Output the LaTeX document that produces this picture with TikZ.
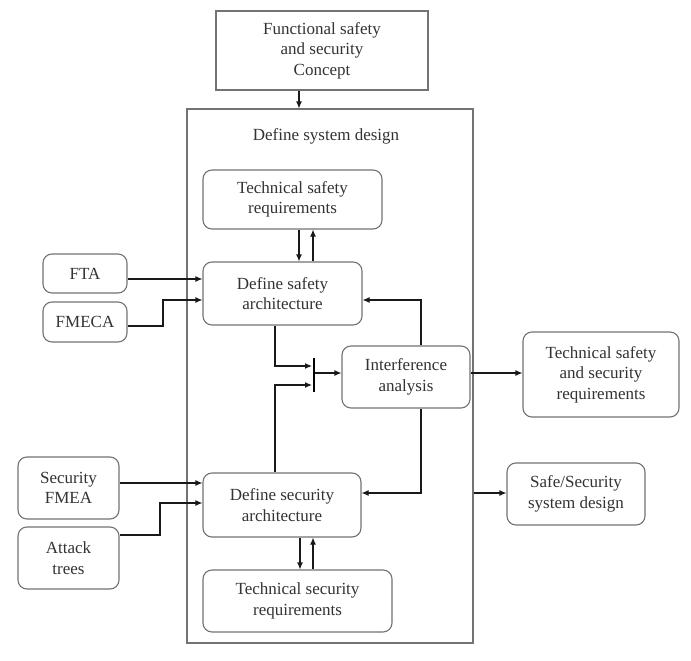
\documentclass[tikz,border=0pt]{standalone}
\usepackage{fontspec}
\setmainfont{Liberation Serif}
\usetikzlibrary{arrows.meta,calc}
\begin{document}
\begin{tikzpicture}[x=1pt,y=-1pt,
  txt/.style={font=\fontsize{17}{20.5}\selectfont, text=black!80, align=center, inner sep=0pt},
  sqbox/.style={txt, draw=black!55, line width=1.1pt},
  rbox/.style={txt, draw=black!55, line width=1.1pt, rounded corners=9pt},
  arr/.style={draw=black!90, line width=1.1pt, -{Latex[length=7pt,width=6pt]}},
  ln/.style={draw=black!90, line width=1.1pt}]
\useasboundingbox (0,0) rectangle (691,661);
\fill[white] (0,0) rectangle (691,661);

\node[sqbox, minimum width=212pt, minimum height=79pt] (top) at (322,50.5) {Functional safety\\and security\\Concept};
\node[draw=black!55, line width=1.1pt, minimum width=286pt, minimum height=534pt, inner sep=0pt] (outer) at (330,376) {};
\node[txt] (title) at (326,136) {Define system design};

\node[rbox, minimum width=179pt, minimum height=59pt] (tsr) at (292.5,199.5) {Technical safety\\requirements};
\node[rbox, minimum width=159pt, minimum height=63pt] (dsa) at (282.5,293.5) {Define safety\\architecture};
\node[rbox, minimum width=84pt, minimum height=39pt] (fta) at (85,273.5) {FTA};
\node[rbox, minimum width=84pt, minimum height=40pt] (fmeca) at (85,322) {FMECA};
\node[rbox, minimum width=128pt, minimum height=62pt] (ia) at (406,377) {Interference\\analysis};
\node[rbox, minimum width=158pt, minimum height=64pt] (dsec) at (282,505) {Define security\\architecture};
\node[rbox, minimum width=101pt, minimum height=62pt] (sfmea) at (68.5,488) {Security\\FMEA};
\node[rbox, minimum width=101pt, minimum height=62pt] (atk) at (68.5,558) {Attack\\trees};
\node[rbox, minimum width=189pt, minimum height=62pt] (tsecr) at (297.5,601) {Technical security\\requirements};
\node[rbox, minimum width=156pt, minimum height=85pt] (tssr) at (601,374.5) {Technical safety\\and security\\requirements};
\node[rbox, minimum width=138pt, minimum height=62pt] (ssd) at (576,494) {Safe/Security\\system design};

% junction bar
\coordinate (bartop) at (314,358);
\coordinate (barbot) at (314,392);
\coordinate (in1) at (312,366);
\coordinate (in2) at (312,385);
\coordinate (barout) at (315,373);
\draw[black, line width=2.6pt] (bartop) -- (barbot);

\draw[arr] (top.south -| 299,0) -- (outer.north -| 299,0);
\draw[arr] (tsr.south -| 299,0) -- (dsa.north -| 299,0);
\draw[arr] (dsa.north -| 313,0) -- (tsr.south -| 313,0);
\draw[arr] (fta.east |- 0,279) -- (dsa.west |- 0,279);
\draw[arr] (fmeca.east |- 0,326) -- (163,326) |- (dsa.west |- 0,300);
\draw[arr] (ia.north -| 421,0) |- (dsa.east |- 0,300);
\draw[arr] (dsa.south -| 275,0) |- (in1);
\draw[arr] (dsec.north -| 275,0) |- (in2);
\draw[arr] (barout) -- (ia.west |- barout);
\draw[arr] (ia.south -| 421,0) |- (dsec.east |- 0,493);
\draw[arr] (sfmea.east |- 0,483) -- (dsec.west |- 0,483);
\draw[arr] (atk.east |- 0,535) -- (160,535) |- (dsec.west |- 0,503);
\draw[arr] (dsec.south -| 300,0) -- (tsecr.north -| 300,0);
\draw[arr] (tsecr.north -| 313,0) -- (dsec.south -| 313,0);
\draw[arr] (ia.east |- 0,373) -- (tssr.west |- 0,373);
\draw[arr] (outer.east |- 0,493) -- (ssd.west |- 0,493);
\end{tikzpicture}
\end{document}
